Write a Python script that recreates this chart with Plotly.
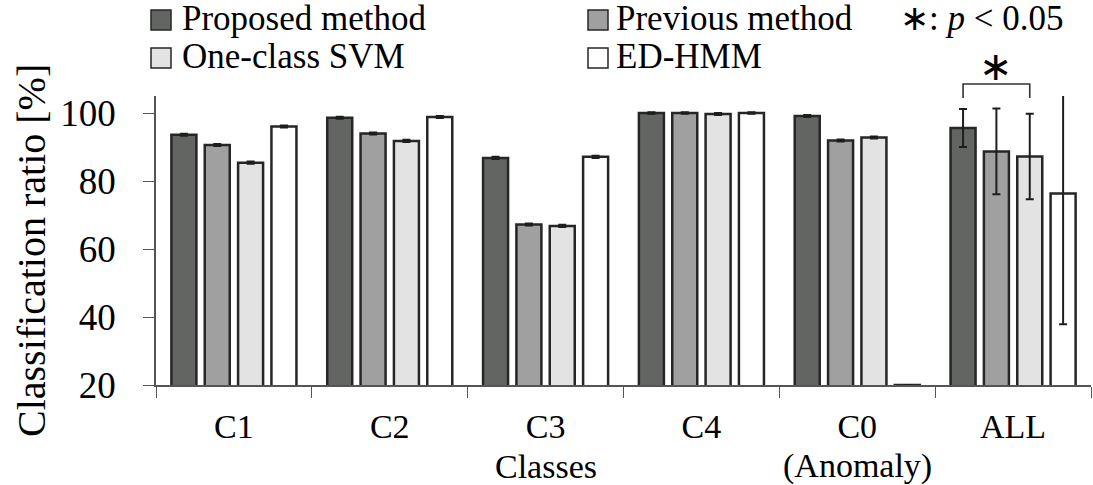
import plotly.graph_objects as go

# ---- data -------------------------------------------------------------
categories = ["C1", "C2", "C3", "C4", "C0", "ALL"]
methods = ["Proposed method", "Previous method", "One-class SVM", "ED-HMM"]

proposed = [93.6, 98.6, 86.8, 100.0, 99.1, 95.6]
previous = [90.6, 94.0, 67.2, 100.0, 91.9, 88.7]
ocsvm = [85.4, 91.8, 66.8, 99.7, 92.8, 87.2]
edhmm = [96.0, 98.8, 87.1, 100.0, 20.0, 76.3]

proposed_err = [0.3, 0.3, 0.3, 0.2, 0.3, 5.6]
previous_err = [0.3, 0.3, 0.3, 0.2, 0.3, 12.6]
ocsvm_err = [0.3, 0.3, 0.3, 0.3, 0.3, 12.6]
edhmm_err = [0.3, 0.3, 0.3, 0.2, 0.0, 38.4]

y_ticks = [20, 40, 60, 80, 100]
# significance bracket: (group, first method index, second method index)
sig_pair = ("ALL", 0, 2)

# ---- style ------------------------------------------------------------
fills = ["#636563", "#a0a0a0", "#e3e3e3", "#ffffff"]
edge = "#262626"
FONT = "Liberation Serif, Times New Roman, serif"

W, H = 1093, 485
L, R, T, B = 156, 2, 96, 100
BARGAP = 0.144
BARGROUPGAP = 0.25


def px_x(px):
    return (px - L) / (W - L - R)


def px_y(py):
    return (H - B - py) / (H - T - B)


values = [proposed, previous, ocsvm, edhmm]
errors = [proposed_err, previous_err, ocsvm_err, edhmm_err]

fig = go.Figure()
for name, vals, errs, col in zip(methods, values, errors, fills):
    fig.add_trace(go.Bar(
        name=name,
        x=categories,
        y=vals,
        marker=dict(color=col, line=dict(color=edge, width=2.5)),
        error_y=dict(type="data", array=errs, visible=True,
                     color="#1e1e1e", thickness=2, width=4),
        showlegend=False,
    ))

shapes = []
annotations = []

# legend drawn as two tight rows
legend_rows = [19, 57]
col_x = [151, 588]
text_x = [180, 614]
for i, name in enumerate(methods):
    r, c = divmod(i, 2)
    cy = legend_rows[r] + 1
    sx = col_x[c]
    shapes.append(dict(type="rect", xref="paper", yref="paper",
                       x0=px_x(sx), x1=px_x(sx + 20),
                       y0=px_y(cy + 10), y1=px_y(cy - 10),
                       fillcolor=fills[i], line=dict(color=edge, width=1.5)))
    annotations.append(dict(text=name, xref="paper", yref="paper",
                            x=px_x(text_x[c]), y=px_y(legend_rows[r]),
                            xanchor="left", yanchor="middle", showarrow=False,
                            font=dict(family=FONT, size=35, color="black")))

annotations.append(dict(text="∗: <i>p</i> < 0.05", xref="paper", yref="paper",
                        x=px_x(898), y=px_y(19), xanchor="left", yanchor="middle",
                        showarrow=False,
                        font=dict(family=FONT, size=35, color="black")))

# significance bracket over the ALL group
slot = (1 - BARGAP) / len(methods)
gi = categories.index(sig_pair[0])
xa = gi + (sig_pair[1] - 1.5) * slot
xb = gi + (sig_pair[2] - 1.5) * slot
shapes.append(dict(type="path", xref="x", yref="paper",
                   path=f"M {xa},{px_y(98)} L {xa},{px_y(84)} L {xb},{px_y(84)} L {xb},{px_y(98)}",
                   line=dict(color="#333333", width=1.6)))
annotations.append(dict(text="∗", xref="x", yref="paper",
                        x=(xa + xb) / 2, y=px_y(66), xanchor="center", yanchor="middle",
                        showarrow=False,
                        font=dict(family="DejaVu Sans", size=40, color="black")))

# y-axis title
annotations.append(dict(text="Classification ratio [%]", xref="paper", yref="paper",
                        x=px_x(31), y=px_y(251), textangle=-90,
                        xanchor="center", yanchor="middle", showarrow=False,
                        font=dict(family=FONT, size=40, color="black")))

# second-line labels below the category names
annotations.append(dict(text="Classes", xref="x", yref="paper", x="C3", y=px_y(466),
                        xanchor="center", yanchor="middle", showarrow=False,
                        font=dict(family=FONT, size=34, color="black")))
annotations.append(dict(text="(Anomaly)", xref="x", yref="paper", x="C0", y=px_y(466),
                        xanchor="center", yanchor="middle", showarrow=False,
                        font=dict(family=FONT, size=34, color="black")))

fig.update_layout(
    width=W, height=H,
    margin=dict(l=L, r=R, t=T, b=B),
    paper_bgcolor="white", plot_bgcolor="white",
    barmode="group", bargap=BARGAP, bargroupgap=BARGROUPGAP,
    font=dict(family=FONT, color="black"),
    shapes=shapes, annotations=annotations,
    xaxis=dict(
        type="category", categoryorder="array", categoryarray=categories,
        showline=True, linecolor="#555555", linewidth=1.5,
        ticks="outside", tickson="boundaries", ticklen=11,
        tickcolor="#555555", tickwidth=1.2, ticklabelstandoff=10,
        tickfont=dict(family=FONT, size=34, color="black"),
        showgrid=False, zeroline=False,
    ),
    yaxis=dict(
        range=[20, 105], tickvals=y_ticks,
        showline=True, linecolor="#555555", linewidth=1.5,
        ticks="outside", ticklen=11, tickcolor="#555555", tickwidth=1.2,
        ticklabelstandoff=20,
        tickfont=dict(family=FONT, size=37, color="black"),
        showgrid=False, zeroline=False,
    ),
)

fig.write_html("out.html")
